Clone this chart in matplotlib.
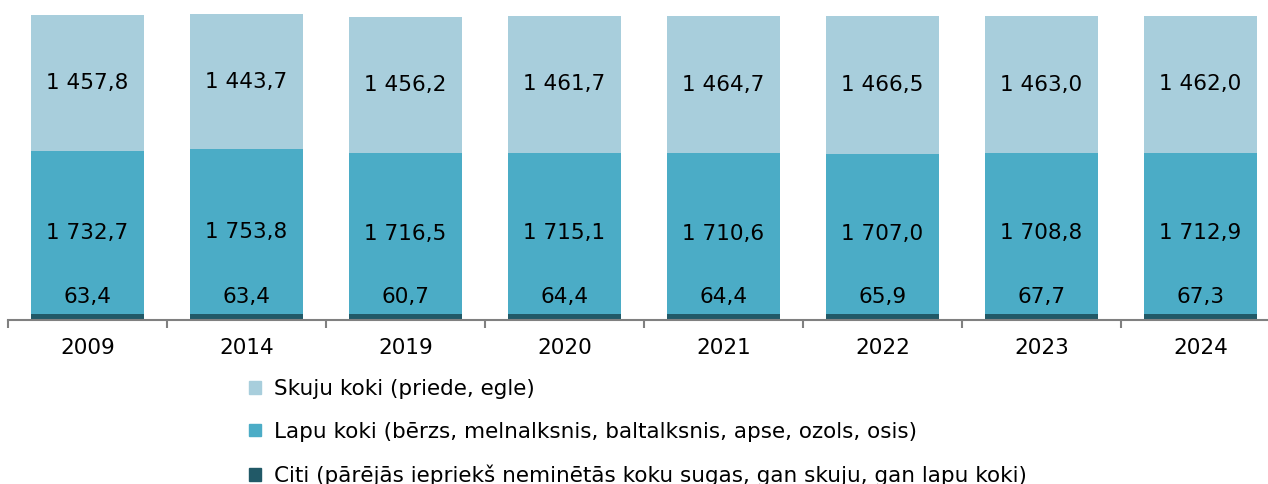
import numpy as np
import matplotlib
matplotlib.use("Agg")
import matplotlib.pyplot as plt
from matplotlib.patches import Patch

years = ["2009", "2014", "2019", "2020", "2021", "2022", "2023", "2024"]
citi = [63.4, 63.4, 60.7, 64.4, 64.4, 65.9, 67.7, 67.3]
lapu = [1732.7, 1753.8, 1716.5, 1715.1, 1710.6, 1707.0, 1708.8, 1712.9]
skuju = [1457.8, 1443.7, 1456.2, 1461.7, 1464.7, 1466.5, 1463.0, 1462.0]

names = ["Skuju koki (priede, egle)",
         "Lapu koki (bērzs, melnalksnis, baltalksnis, apse, ozols, osis)",
         "Citi (pārējās iepriekš neminētās koku sugas, gan skuju, gan lapu koki)"]
colors = ["#A8CEDC", "#4BACC6", "#215967"]

def fmt(v):
    s = "{:,.1f}".format(v)
    return s.replace(",", " ").replace(".", ",")

plt.rcParams['font.family'] = ['DejaVu Sans']

fig = plt.figure(figsize=(12.68, 4.84), dpi=100)
ax = fig.add_axes([8/1268, 164/484, 1 - 8/1268, 320/484])

x = np.arange(len(years))
w = 0.715
citi = np.array(citi)
lapu = np.array(lapu)
skuju = np.array(skuju)

ax.bar(x, citi, w, color=colors[2])
ax.bar(x, lapu, w, bottom=citi, color=colors[1])
ax.bar(x, skuju, w, bottom=citi + lapu, color=colors[0])

fs = 15.5
for i in range(len(x)):
    ax.annotate(fmt(citi[i]), (x[i], citi[i]), xytext=(0, 5), textcoords="offset points",
                ha="center", va="bottom", fontsize=fs, color="black")
    ax.text(x[i], citi[i] + lapu[i] / 2, fmt(lapu[i]), ha="center", va="center",
            fontsize=fs, color="black")
    ax.text(x[i], citi[i] + lapu[i] + skuju[i] / 2, fmt(skuju[i]), ha="center", va="center",
            fontsize=fs, color="black")

ax.set_xlim(-0.5, 7.425)
ax.set_ylim(0, 3410)
for s in ["top", "right", "left"]:
    ax.spines[s].set_visible(False)
ax.spines["bottom"].set_color("#808080")
ax.spines["bottom"].set_linewidth(1.5)
ax.set_yticks([])

ax.set_xticks(x)
ax.set_xticklabels(years, fontsize=fs)
ax.tick_params(axis="x", which="major", length=0, pad=13)
ax.set_xticks(np.arange(-0.5, 7.5, 1), minor=True)
ax.tick_params(axis="x", which="minor", length=6, width=1.5, color="#808080", direction="out")

# legend below the plot, third row is cut by the figure edge as in the source
handles = [Patch(color=c) for c in colors]
fig.legend(handles, names, loc="upper left", bbox_to_anchor=(249/1268, 1 - 379/484),
           frameon=False, fontsize=fs, handlelength=0.55, handleheight=0.55,
           handletextpad=0.6, labelspacing=1.05, borderaxespad=0, borderpad=0)

fig.savefig("out.png", dpi=100)
